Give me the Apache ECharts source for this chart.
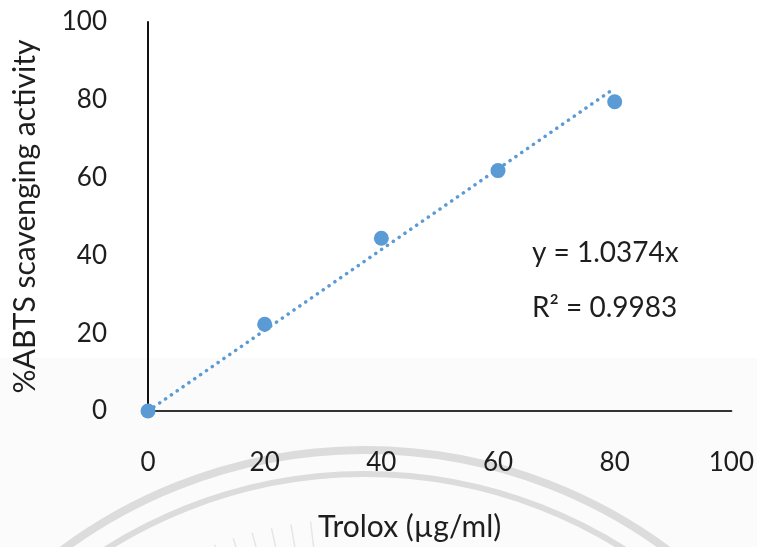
<!DOCTYPE html>
<html>
<head>
<meta charset="utf-8">
<script src="https://cdn.jsdelivr.net/npm/echarts@6/dist/echarts.min.js"></script>
<style>
  html, body { margin: 0; padding: 0; background: #ffffff; }
  #chart { width: 757px; height: 547px; }
</style>
</head>
<body>
<div id="chart"></div>
<script>
// Trolox standard curve for the ABTS assay
const troloxConc = [0, 20, 40, 60, 80];          // µg/ml
const scavenging = [0, 22.3, 44.4, 61.8, 79.5];  // % ABTS scavenging activity
const xTicks = [0, 20, 40, 60, 80, 100];
const yTicks = [0, 20, 40, 60, 80, 100];

// Linear trendline forced through the origin
const trendSlope = 1.0374;
const trendR2 = 0.9983;
const trendRange = [0, 80];

const FONT = 'Lato';
const TEXT = '#1e1e1e';
const BLUE = '#5B9BD5';

const points = troloxConc.map((x, i) => [x, scavenging[i]]);
const trend = trendRange.map(x => [x, trendSlope * x]);

const chart = echarts.init(document.getElementById('chart'), null, { renderer: 'canvas' });

// faint crest in the lower part of the page
const crestCx = 365, crestCy = 958;
const rays = [];
for (let a = -1.92; a <= -1.69; a += 0.045) {
  rays.push({
    type: 'line', silent: true, z: -9,
    shape: {
      x1: crestCx + Math.cos(a) * 412, y1: crestCy + Math.sin(a) * 412,
      x2: crestCx + Math.cos(a) * 440, y2: crestCy + Math.sin(a) * 440
    },
    style: { stroke: '#e6e6e6', lineWidth: 1.5 }
  });
}

chart.setOption({
  animation: false,
  backgroundColor: '#ffffff',
  textStyle: { fontFamily: FONT },
  graphic: [
    { type: 'rect', silent: true, z: -10, shape: { x: 0, y: 358, width: 757, height: 189 },
      style: { fill: '#fbfbfb' } },
    { type: 'arc', silent: true, z: -9,
      shape: { cx: crestCx, cy: crestCy, r: 508, startAngle: -2.3, endAngle: -0.85, clockwise: true },
      style: { stroke: '#dcdcdc', lineWidth: 8, fill: null } },
    { type: 'arc', silent: true, z: -9,
      shape: { cx: crestCx, cy: crestCy, r: 484, startAngle: -2.3, endAngle: -0.85, clockwise: true },
      style: { stroke: '#dcdcdc', lineWidth: 6, fill: null } },
    ...rays,
    { type: 'text', left: 532, top: 239, z: 10,
      style: { text: 'y = ' + trendSlope.toFixed(4) + 'x', font: '28px ' + FONT, fill: TEXT } },
    { type: 'text', left: 532, top: 294, z: 10,
      style: { text: 'R² = ' + trendR2.toFixed(4), font: '28px ' + FONT, fill: TEXT } }
  ],
  grid: { left: 148, right: 25, top: 22, bottom: 132, containLabel: false },
  xAxis: {
    type: 'value', min: xTicks[0], max: xTicks[xTicks.length - 1], interval: 20,
    name: 'Trolox (µg/ml)', nameLocation: 'middle', nameGap: 101,
    nameTextStyle: { fontFamily: FONT, fontSize: 30, color: TEXT, padding: [0, 60, 0, 0] },
    axisLine: { show: true, onZero: false, lineStyle: { color: '#333333', width: 2 } },
    axisTick: { show: false },
    splitLine: { show: false },
    axisLabel: { margin: 39, fontFamily: FONT, fontSize: 26, color: TEXT }
  },
  yAxis: {
    type: 'value', min: yTicks[0], max: yTicks[yTicks.length - 1], interval: 20,
    name: '%ABTS scavenging activity', nameLocation: 'middle', nameGap: 108,
    nameTextStyle: { fontFamily: FONT, fontSize: 30, color: TEXT },
    axisLine: { show: true, onZero: false, lineStyle: { color: '#111111', width: 2 } },
    axisTick: { show: false },
    splitLine: { show: false },
    axisLabel: { margin: 41, fontFamily: FONT, fontSize: 26, color: TEXT }
  },
  series: [
    {
      type: 'line', data: trend, showSymbol: false, z: 2,
      lineStyle: { color: BLUE, width: 3.5, type: [0.1, 7], cap: 'round' }
    },
    {
      type: 'scatter', data: points, symbol: 'circle', symbolSize: 15, z: 3,
      itemStyle: { color: BLUE, opacity: 1 }
    }
  ]
});
</script>
</body>
</html>
